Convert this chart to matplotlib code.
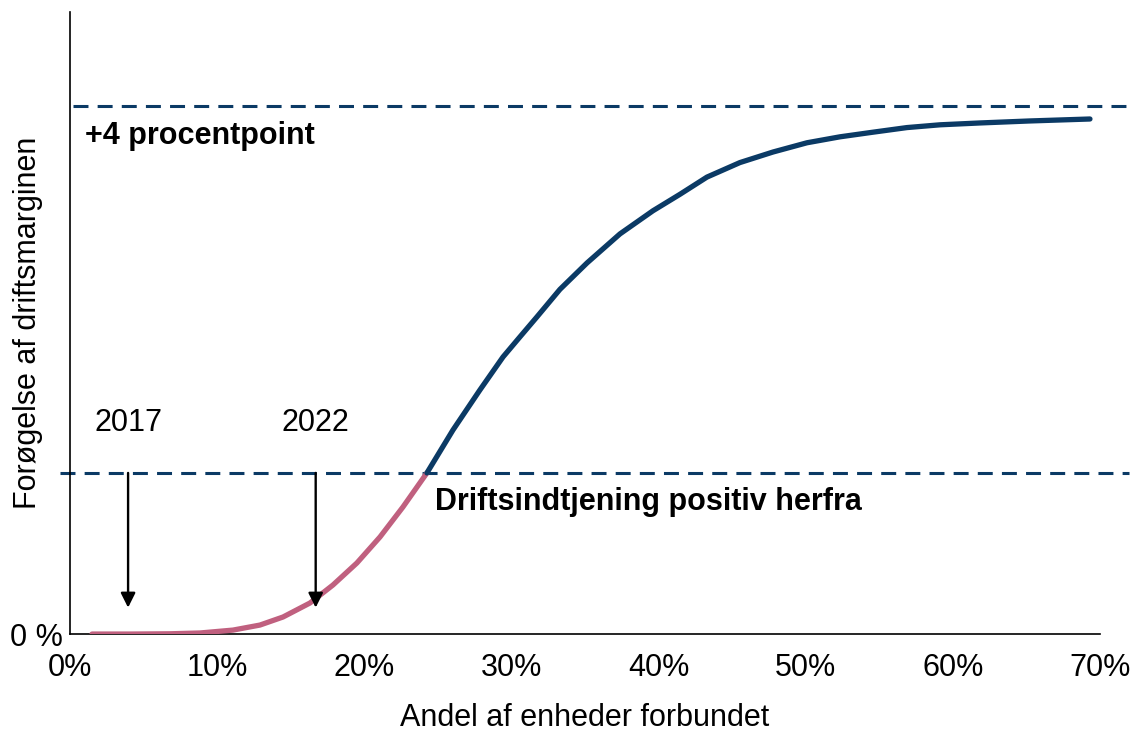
import matplotlib
matplotlib.use("Agg")
import matplotlib.pyplot as plt
from matplotlib.ticker import FuncFormatter

plt.rcParams['font.family'] = ['Liberation Sans', 'DejaVu Sans']

# andel af enheder forbundet (%) og forøgelse af driftsmarginen (procentpoint)
x_pink = [1.5, 4.1, 6.8, 8.84, 11.08, 12.91, 14.48, 16.31, 17.87, 19.5, 21.07,
          22.63, 24.26]
y_pink = [0.0, 0.0, 0.002, 0.008, 0.03, 0.068, 0.129, 0.235, 0.371, 0.538,
          0.735, 0.962, 1.22]

x_navy = [24.26, 26.03, 27.86, 29.43, 30.58, 31.74, 33.3, 35.14, 37.38, 39.62,
          41.46, 43.29, 45.53, 47.78, 50.09, 52.33, 54.57, 56.88, 59.13, 61.85,
          65.2, 69.32]
y_navy = [1.22, 1.545, 1.848, 2.098, 2.25, 2.402, 2.61, 2.81, 3.03, 3.205,
          3.33, 3.46, 3.57, 3.65, 3.72, 3.765, 3.80, 3.835, 3.856, 3.87,
          3.885, 3.90]

top_level = 4.0
break_even = 1.22
arrows = {"2017": 3.95, "2022": 16.7}
x_ticks = [0, 10, 20, 30, 40, 50, 60, 70]

navy = "#0B3A65"
pink = "#C0607F"

fig = plt.figure(figsize=(11.32, 7.33), dpi=100)
ax = fig.add_axes([0.0618, 0.135, 0.9099, 0.8486])

ax.plot(x_pink, y_pink, color=pink, lw=3.8, solid_capstyle='round',
        solid_joinstyle='round', zorder=3)
ax.plot(x_navy, y_navy, color=navy, lw=3.8, solid_capstyle='round',
        solid_joinstyle='round', zorder=3)

ax.plot([0.2, 72.0], [top_level, top_level], color=navy, lw=2.2,
        dashes=(4.9, 3.0), clip_on=False)
ax.plot([-0.7, 72.0], [break_even, break_even], color=navy, lw=2.2,
        dashes=(4.9, 3.0), clip_on=False)

for lbl, xv in arrows.items():
    ax.annotate("", xy=(xv, 0.2), xytext=(xv, break_even),
                arrowprops=dict(arrowstyle="-|>", color="black", lw=1.7,
                                mutation_scale=22, shrinkA=0, shrinkB=0))
    ax.text(xv, 1.6, lbl, fontsize=22, ha="center", va="center")

ax.text(1.0, 3.77, "+4 procentpoint", fontsize=22, fontweight="bold",
        ha="left", va="center")
ax.text(24.8, 1.0, "Driftsindtjening positiv herfra", fontsize=22,
        fontweight="bold", ha="left", va="center")

ax.set_xlim(0, 70)
ax.set_ylim(0, 4.71)
ax.set_xticks(x_ticks)
ax.xaxis.set_major_formatter(FuncFormatter(lambda v, p: f"{v:.0f}%"))
ax.set_yticks([0])
ax.set_yticklabels(["0 %"])
ax.tick_params(axis="x", length=0, pad=14, labelsize=22)
ax.tick_params(axis="y", length=0, pad=5, labelsize=22)

ax.spines["top"].set_visible(False)
ax.spines["right"].set_visible(False)
for s in ("left", "bottom"):
    ax.spines[s].set_linewidth(1.2)

ax.set_xlabel("Andel af enheder forbundet", fontsize=22)
ax.set_ylabel("Forøgelse af driftsmarginen", fontsize=22)
ax.xaxis.set_label_coords(0.5, -0.111)
ax.yaxis.set_label_coords(-0.026, 0.5)

fig.savefig("out.png", dpi=100)
